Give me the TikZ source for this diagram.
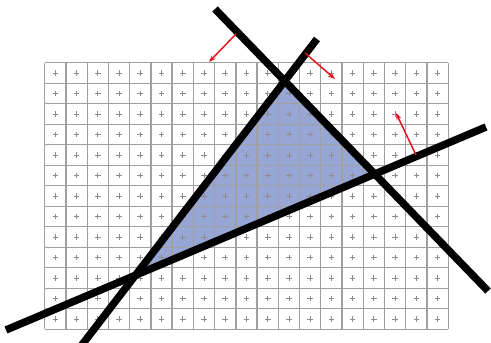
\documentclass[tikz,border=0pt]{standalone}
\usetikzlibrary{arrows.meta}
\definecolor{trifill}{HTML}{98A6D6}
\definecolor{gridgray}{HTML}{A0A0A0}
\definecolor{plusgray}{HTML}{8C8C8C}
\definecolor{arrowred}{HTML}{E3141E}
\begin{document}
\begin{tikzpicture}[x=1pt,y=-1pt,
  gridline/.style={draw=gridgray, line width=1.3pt},
  plusmark/.style={draw=plusgray, line width=0.9pt},
  bigline/.style={draw=black, line width=7.5pt},
  normalarrow/.style={draw=arrowred, line width=1.5pt, -{Stealth[length=7pt,width=5pt]}},
  trishape/.style={fill=trifill}]
\useasboundingbox (0,0) rectangle (491,343);
\clip (0,0) rectangle (491,343);
% line end points
\coordinate (l1a) at (78,350);
\coordinate (l1b) at (317,39);
\coordinate (l2a) at (215,9);
\coordinate (l2b) at (488,291);
\coordinate (l3a) at (6,330);
\coordinate (l3b) at (486,127);
% triangle vertices
\coordinate (A) at (intersection of l1a--l1b and l2a--l2b);
\coordinate (B) at (intersection of l2a--l2b and l3a--l3b);
\coordinate (C) at (intersection of l1a--l1b and l3a--l3b);
\fill[trishape] (A) -- (B) -- (C) -- cycle;
% grid
\foreach \i in {0,...,19}
  \draw[gridline] (44.7+\i*21.24,62.7) -- (44.7+\i*21.24,329.3);
\foreach \j in {0,...,13}
  \draw[gridline] (44.7,62.7+\j*20.508) -- (448.3,62.7+\j*20.508);
\foreach \i in {0,...,18}
  \foreach \j in {0,...,12}
    \draw[plusmark] (55.32+\i*21.24,72.95+\j*20.508) +(-2.8,0) -- +(2.8,0) +(0,-2.8) -- +(0,2.8);
% lines
\draw[bigline] (l1a) -- (l1b);
\draw[bigline] (l2a) -- (l2b);
\draw[bigline] (l3a) -- (l3b);
% normals
\coordinate (n1s) at (236,34);
\coordinate (n1e) at (209,62);
\coordinate (n2s) at (305,53);
\coordinate (n2e) at (335,79);
\coordinate (n3s) at (416,155);
\coordinate (n3e) at (396,113);
\draw[normalarrow] (n1s) -- (n1e);
\draw[normalarrow] (n2s) -- (n2e);
\draw[normalarrow] (n3s) -- (n3e);
\end{tikzpicture}
\end{document}
